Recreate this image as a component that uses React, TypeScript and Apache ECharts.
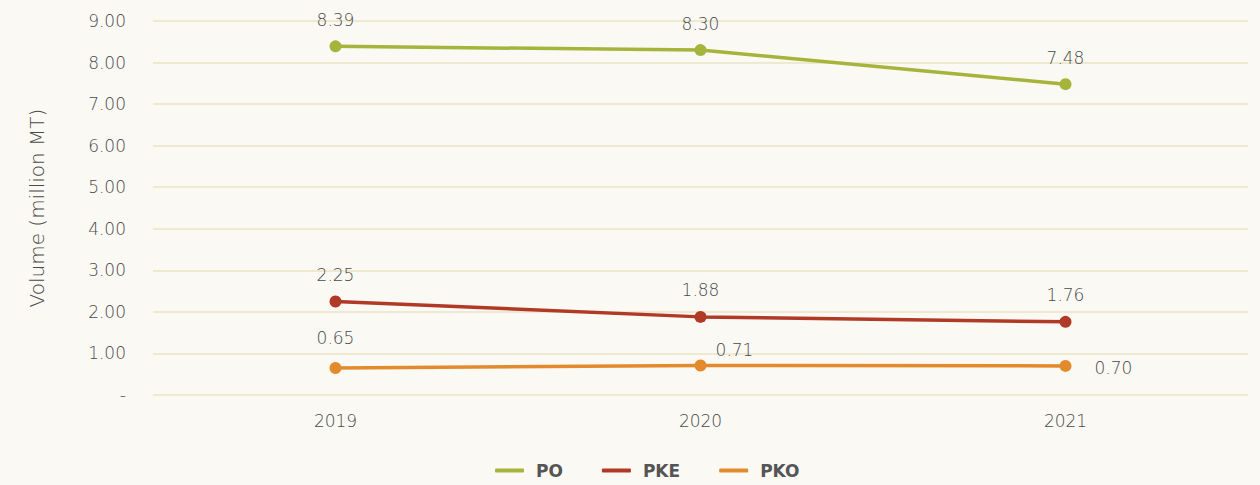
import React, { useEffect, useRef } from "react";
import * as echarts from "echarts";

const categories = ["2019", "2020", "2021"];
const poValues = [8.39, 8.3, 7.48];
const pkeValues = [2.25, 1.88, 1.76];
const pkoValues = [0.65, 0.71, 0.7];
const yTicks = [0, 1, 2, 3, 4, 5, 6, 7, 8, 9];

const FONT = "'DejaVu Sans', sans-serif";
const TEXT = "#4a4a4a";
const W = 200;

export default function App() {
  const ref = useRef<HTMLDivElement>(null);
  useEffect(() => {
    if (!ref.current) return;
    const chart = echarts.init(ref.current, null, { renderer: "svg" });
    const labelBase = {
      show: true,
      position: "top" as const,
      distance: 12,
      color: TEXT,
      fontSize: 17,
      fontWeight: W,
      fontFamily: FONT,
      formatter: (p: any) => Number(p.value).toFixed(2),
    };
    const pkoLabels = [
      { position: "top", distance: 15 },
      { position: "top", distance: 1, offset: [34, 0] },
      { position: "right", distance: 23, offset: [0, 2] },
    ];
    chart.setOption({
      animation: false,
      backgroundColor: "#faf9f4",
      textStyle: { fontFamily: FONT },
      grid: { left: 153, right: 12, top: 21, bottom: 90, containLabel: false },
      legend: {
        bottom: 1,
        left: 490,
        icon: "roundRect",
        itemWidth: 29,
        itemHeight: 4,
        itemGap: 39,
        textStyle: { color: "#555", fontSize: 17, fontWeight: "bold", fontFamily: FONT, padding: [0, 0, 0, 7] },
        data: ["PO", "PKE", "PKO"],
      },
      xAxis: {
        type: "category",
        data: categories,
        boundaryGap: true,
        axisLine: { show: false },
        axisTick: { show: false },
        axisLabel: { color: TEXT, fontSize: 17, fontWeight: W, margin: 17, fontFamily: FONT },
      },
      yAxis: {
        type: "value",
        min: yTicks[0],
        max: yTicks[yTicks.length - 1],
        interval: 1,
        name: "Volume (million MT)",
        nameLocation: "middle",
        nameGap: 106,
        nameTextStyle: { color: TEXT, fontSize: 20, fontWeight: W, fontFamily: FONT },
        axisLine: { show: false },
        axisTick: { show: false },
        axisLabel: {
          color: TEXT,
          fontSize: 17,
          fontWeight: W,
          margin: 27,
          fontFamily: FONT,
          formatter: (v: number) => (v === 0 ? "-" : v.toFixed(2)),
        },
        splitLine: { lineStyle: { color: "#ede3c6", width: 1.5 } },
      },
      series: [
        {
          name: "PO",
          type: "line",
          data: poValues,
          color: "#a5b43a",
          symbol: "circle",
          symbolSize: 12,
          lineStyle: { width: 3.5 },
          label: labelBase,
        },
        {
          name: "PKE",
          type: "line",
          data: pkeValues,
          color: "#b03a26",
          symbol: "circle",
          symbolSize: 12,
          lineStyle: { width: 3.5 },
          label: labelBase,
        },
        {
          name: "PKO",
          type: "line",
          data: pkoValues.map((v, i) => ({ value: v, label: pkoLabels[i] })),
          color: "#e38b2c",
          symbol: "circle",
          symbolSize: 12,
          lineStyle: { width: 3.5 },
          label: labelBase,
        },
      ],
    });
    return () => chart.dispose();
  }, []);
  return <div ref={ref} style={{ width: 1260, height: 485, position: "absolute", left: 0, top: 0 }} />;
}
